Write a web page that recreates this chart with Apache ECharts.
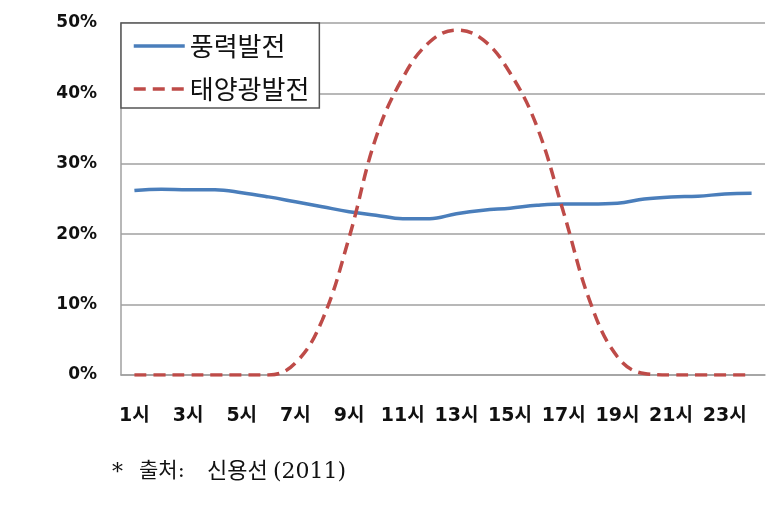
<!DOCTYPE html>
<html>
<head>
<meta charset="utf-8">
<script src="https://cdn.jsdelivr.net/npm/echarts@6/dist/echarts.min.js"></script>
<style>
html,body{margin:0;padding:0;background:#fff;}
#chart{width:784px;height:507px;}
</style>
</head>
<body>
<div id="chart"></div>
<script>
const hours = ['1시','2시','3시','4시','5시','6시','7시','8시','9시','10시','11시','12시',
  '13시','14시','15시','16시','17시','18시','19시','20시','21시','22시','23시','24시'];
const windName = '풍력발전';
const solarName = '태양광발전';
const windValues = [26.2,26.4,26.3,26.3,25.9,25.3,24.6,23.9,23.2,22.7,22.2,22.2,
  22.9,23.4,23.7,24.1,24.3,24.3,24.4,25.0,25.3,25.4,25.7,25.8];
const solarValues = [0,0,0,0,0,0,1.7,7.8,19.5,33.7,42.2,47.3,
  49.0,47.6,42.9,35.3,23.0,10.2,2.6,0.2,0,0,0,0];
const yTicks = {min:0, max:50, interval:10};
const footnoteParts = ['*', '출처:', '신용선', '(2011)'];

const chart = echarts.init(document.getElementById('chart'), null, {renderer:'canvas'});
const labelFont = 'DejaVu Sans, "Noto Sans CJK KR", sans-serif';
const serifFont = '"DejaVu Serif", "Liberation Serif", "Noto Sans CJK KR", serif';
chart.setOption({
  backgroundColor:'#fff',
  animation:false,
  grid:{left:121, right:19, top:23, bottom:132, containLabel:false},
  legend:{
    orient:'vertical', left:121, top:23,
    padding:[10,10,6,11],
    itemGap:17, itemWidth:51, itemHeight:14,
    backgroundColor:'#fff', borderColor:'#555', borderWidth:1.5,
    itemStyle:{opacity:0},
    lineStyle:{width:3.5},
    textStyle:{fontSize:26, color:'#111', fontFamily:'"Noto Sans CJK KR", sans-serif'},
    data:[windName, solarName]
  },
  xAxis:{
    type:'category', data:hours, boundaryGap:true,
    axisTick:{show:false},
    axisLine:{show:true, lineStyle:{color:'#a0a0a0', width:1.5}},
    axisLabel:{interval:1, margin:32, fontSize:19, fontWeight:'bold', color:'#111', fontFamily:labelFont},
    splitLine:{show:false}
  },
  yAxis:{
    type:'value', min:yTicks.min, max:yTicks.max, interval:yTicks.interval,
    axisLine:{show:true, lineStyle:{color:'#a0a0a0', width:1.5}},
    axisTick:{show:false},
    axisLabel:{formatter:'{value}%', margin:24, fontSize:17, fontWeight:'bold', color:'#111', fontFamily:labelFont},
    splitLine:{show:true, lineStyle:{color:'#a0a0a0', width:1.5}}
  },
  series:[
    {name:windName, type:'line', data:windValues, smooth:0.4, symbol:'none',
     lineStyle:{color:'#4a7ebb', width:3.5}, itemStyle:{color:'#4a7ebb'}},
    {name:solarName, type:'line', data:solarValues, smooth:0.4, symbol:'none',
     lineStyle:{color:'#be4b48', width:3.5, type:[12,7]}, itemStyle:{color:'#be4b48'}}
  ],
  graphic:[
    {type:'text', left:112, top:462, style:{text:footnoteParts[0], fontSize:22, fill:'#111', fontFamily:serifFont}},
    {type:'text', left:139, top:461, style:{text:footnoteParts[1], fontSize:21, fill:'#111', fontFamily:serifFont}},
    {type:'text', left:207, top:461, style:{text:footnoteParts[2], fontSize:22, fill:'#111', fontFamily:serifFont}},
    {type:'text', left:273, top:461, style:{text:footnoteParts[3], fontSize:22, fill:'#111', fontFamily:serifFont}}
  ]
});
</script>
</body>
</html>
